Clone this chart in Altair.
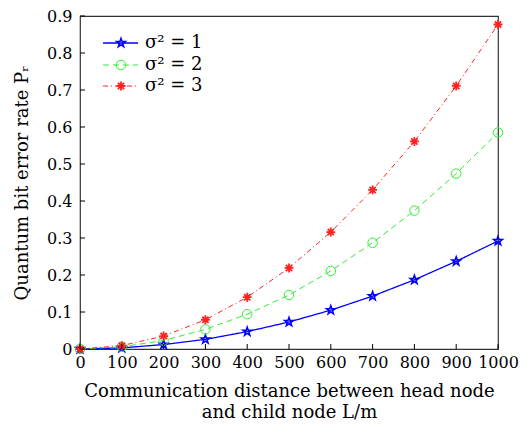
import altair as alt
import pandas as pd

# ---- data ----
distance = [0, 100, 200, 300, 400, 500, 600, 700, 800, 900, 1000]
qber_s1 = [0, 0.003, 0.012, 0.026, 0.047, 0.073, 0.105, 0.143, 0.187, 0.237, 0.292]
qber_s2 = [0, 0.006, 0.023, 0.053, 0.094, 0.146, 0.211, 0.287, 0.374, 0.474, 0.585]
qber_s3 = [0, 0.009, 0.035, 0.079, 0.140, 0.219, 0.316, 0.430, 0.561, 0.711, 0.877]
series_labels = ["σ² = 1", "σ² = 2", "σ² = 3"]
x_ticks = [0, 100, 200, 300, 400, 500, 600, 700, 800, 900, 1000]
y_ticks = [0, 0.1, 0.2, 0.3, 0.4, 0.5, 0.6, 0.7, 0.8, 0.9]

W, H = 418, 333
FONT = "DejaVu Serif"

STAR = ("M0,-1L0.235,-0.324L0.951,-0.309L0.380,0.124L0.588,0.809L0,0.4"
        "L-0.588,0.809L-0.380,0.124L-0.951,-0.309L-0.235,-0.324Z")
ASTER = "M0,-1L0,1M-1,0L1,0M-0.7,-0.7L0.7,0.7M-0.7,0.7L0.7,-0.7"

styles = [
    dict(color="#0000ff", dash=[1, 0], shape=STAR, filled=False, size=80, sw=1.3, psw=1.6),
    dict(color="#33ee33", dash=[6, 4], shape="circle", filled=False, size=90, sw=1.0, psw=1.0),
    dict(color="#ff2222", dash=[5, 3, 1, 3], shape=ASTER, filled=False, size=80, sw=1.0, psw=1.8),
]

xs = alt.Scale(domain=[0, 1000], nice=False)
ys = alt.Scale(domain=[0, 0.9], nice=False)

x_axis = alt.Axis(values=x_ticks, format="d", tickSize=0, labelPadding=5, domain=False,
                  grid=False, labelFont=FONT, labelFontSize=16, labelColor="#000",
                  labelOverlap=False, labelFlush=False, labelBound=False,
                  titleFont=FONT, titleFontSize=18, titleFontWeight="normal",
                  titleColor="#000", titlePadding=12, titleLineHeight=21,
                  title=["Communication distance between head node", "and child node L/m"])
y_axis = alt.Axis(values=y_ticks, labelExpr="datum.value == 0 ? '0' : format(datum.value, '.1f')",
                  tickSize=0, labelPadding=8, domain=False, grid=False,
                  labelOverlap=False, labelFlush=False, labelBound=False,
                  labelFont=FONT, labelFontSize=16, labelColor="#000",
                  titleFont=FONT, titleFontSize=18, titleFontWeight="normal",
                  titleColor="#000", titlePadding=15,
                  title="Quantum bit error rate Pᵣ")


def X(f):
    return alt.X(f, scale=xs, axis=x_axis)


def Y(f):
    return alt.Y(f, scale=ys, axis=y_axis)


layers = []
all_series = [qber_s1, qber_s2, qber_s3]
for vals, st in zip(all_series, styles):
    df = pd.DataFrame({"L": distance, "P": vals})
    layers.append(alt.Chart(df).mark_line(color=st["color"], strokeDash=st["dash"],
                                          strokeWidth=st["sw"]).encode(x=X("L:Q"), y=Y("P:Q")))
    layers.append(alt.Chart(df).mark_point(shape=st["shape"], filled=st["filled"],
                                           color=st["color"], size=st["size"],
                                           strokeWidth=st["psw"], opacity=1)
                  .encode(x=X("L:Q"), y=Y("P:Q")))

# inward tick marks
xt = pd.DataFrame({"L": x_ticks})
yt = pd.DataFrame({"P": y_ticks})
layers.append(alt.Chart(xt).mark_rule(color="#000", strokeWidth=1).encode(
    x=X("L:Q"), y=alt.value(H), y2=alt.value(H - 5)))
layers.append(alt.Chart(yt).mark_rule(color="#000", strokeWidth=1).encode(
    y=Y("P:Q"), x=alt.value(0), x2=alt.value(5)))

# legend (top-left inside plot)
one = pd.DataFrame({"k": [0]})
row_y = [27, 49, 70]
for lab, st, ry in zip(series_labels, styles, row_y):
    layers.append(alt.Chart(one).mark_rule(color=st["color"], strokeDash=st["dash"],
                                           strokeWidth=st["sw"]).encode(
        x=alt.value(23), x2=alt.value(58), y=alt.value(ry)))
    layers.append(alt.Chart(one).mark_point(shape=st["shape"], filled=st["filled"],
                                            color=st["color"], size=st["size"],
                                            strokeWidth=st["psw"], opacity=1).encode(
        x=alt.value(41), y=alt.value(ry)))
    layers.append(alt.Chart(one).mark_text(align="left", baseline="middle", font=FONT,
                                           fontSize=18, color="#000").encode(
        x=alt.value(65), y=alt.value(ry), text=alt.value(lab)))

chart = alt.layer(*layers).properties(
    width=W, height=H,
    autosize=alt.AutoSizeParams(type="none"),
    padding={"left": 72, "top": 8, "right": 21, "bottom": 72},
    background="white",
).configure_view(stroke="#333", strokeWidth=1.2)

chart.save("out.html", embed_options={"renderer": "svg", "actions": False})
